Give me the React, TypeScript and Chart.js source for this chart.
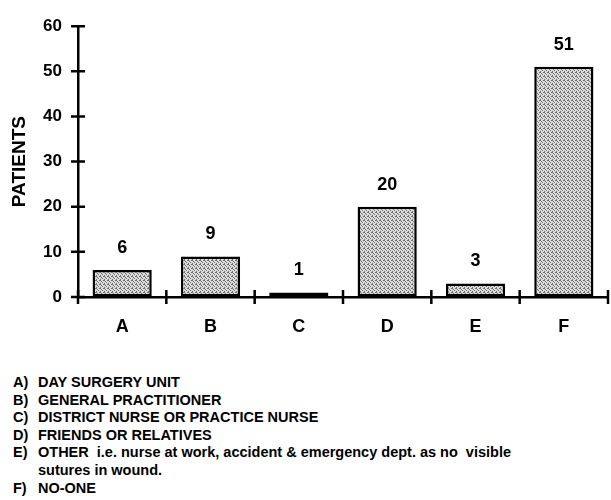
import React, { useEffect, useRef } from "react";
import { Chart, registerables } from "chart.js";

Chart.register(...registerables);

const categories = ["A", "B", "C", "D", "E", "F"];
const patients = [6, 9, 1, 20, 3, 51];
const yTicks = [0, 10, 20, 30, 40, 50, 60];
const legendKeys = ["A)", "B)", "C)", "D)", "E)", "F)"];
const legendTexts = [
  "DAY SURGERY UNIT",
  "GENERAL PRACTITIONER",
  "DISTRICT NURSE OR PRACTICE NURSE",
  "FRIENDS OR RELATIVES",
  "OTHER  i.e. nurse at work, accident & emergency dept. as no  visible\nsutures in wound.",
  "NO-ONE",
];

const FONT = "'Liberation Sans', Arial, sans-serif";
// dither mask for the bar fill (1 = dark pixel)
const DITHER = [
  [1, 0, 0, 1],
  [0, 1, 0, 0],
  [0, 0, 1, 0],
  [1, 0, 0, 0],
];

export default function App() {
  const ref = useRef<HTMLCanvasElement | null>(null);

  useEffect(() => {
    const canvas = ref.current;
    if (!canvas) return;
    const pc = document.createElement("canvas");
    pc.width = 4;
    pc.height = 4;
    const pctx = pc.getContext("2d")!;
    pctx.fillStyle = "#dcdcdc";
    pctx.fillRect(0, 0, 4, 4);
    pctx.fillStyle = "#6e6e6e";
    DITHER.forEach((row, r) =>
      row.forEach((v, c) => {
        if (v) pctx.fillRect(c, r, 1, 1);
      })
    );
    const ctx0 = canvas.getContext("2d")!;
    const pattern = ctx0.createPattern(pc, "repeat");

    const axisTicks = {
      id: "axisTicks",
      afterDraw(chart: any) {
        const ctx = chart.ctx;
        const xs = chart.scales.x;
        const ys = chart.scales.y;
        const area = chart.chartArea;
        ctx.save();
        ctx.strokeStyle = "#000";
        ctx.lineWidth = 2.5;
        ctx.beginPath();
        ys.ticks.forEach((t: any) => {
          const y = ys.getPixelForValue(t.value);
          ctx.moveTo(area.left - 7, y);
          ctx.lineTo(area.left + 7, y);
        });
        const half = (xs.getPixelForValue(1) - xs.getPixelForValue(0)) / 2;
        for (let i = 0; i <= categories.length; i++) {
          const x = i < categories.length ? xs.getPixelForValue(i) - half : xs.getPixelForValue(i - 1) + half;
          ctx.moveTo(x, area.bottom - 7);
          ctx.lineTo(x, area.bottom + 7);
        }
        ctx.stroke();
        ctx.restore();
      },
    };

    const valueLabels = {
      id: "valueLabels",
      afterDatasetsDraw(chart: any) {
        const ctx = chart.ctx;
        const meta = chart.getDatasetMeta(0);
        ctx.save();
        ctx.fillStyle = "#000";
        ctx.font = `bold 18px ${FONT}`;
        ctx.textAlign = "center";
        ctx.textBaseline = "middle";
        meta.data.forEach((bar: any, i: number) => {
          ctx.fillText(String(patients[i]), bar.x, bar.y - 22);
        });
        ctx.restore();
      },
    };

    const chart = new Chart(canvas, {
      type: "bar",
      data: {
        labels: categories,
        datasets: [
          {
            data: patients,
            backgroundColor: pattern as any,
            borderColor: "#000",
            borderWidth: 2.5,
            borderSkipped: false,
            categoryPercentage: 1,
            barPercentage: 0.67,
          },
        ],
      },
      options: {
        responsive: false,
        animation: false,
        layout: { padding: { top: 19, right: 3, left: 0, bottom: 0 } },
        plugins: { legend: { display: false }, tooltip: { enabled: false } },
        scales: {
          x: {
            offset: true,
            grid: { display: true, drawOnChartArea: false, drawTicks: false },
            border: { display: true, color: "#000", width: 2.5 },
            ticks: { color: "#000", font: { family: FONT, size: 18, weight: "bold" }, padding: 19 },
            afterFit: (s: any) => {
              s.height = 53;
            },
          },
          y: {
            min: 0,
            max: 60,
            afterBuildTicks: (s: any) => {
              s.ticks = yTicks.map((v) => ({ value: v }));
            },
            grid: { display: true, drawOnChartArea: false, drawTicks: false },
            border: { display: true, color: "#000", width: 2.5 },
            ticks: { color: "#000", font: { family: FONT, size: 17, weight: "bold" }, padding: 16 },
            title: {
              display: true,
              text: "PATIENTS",
              color: "#000",
              font: { family: FONT, size: 19, weight: "bold" },
              padding: { top: 8, bottom: 0 },
            },
            afterFit: (s: any) => {
              s.width = 78;
            },
          },
        },
      },
      plugins: [axisTicks, valueLabels],
    });
    return () => chart.destroy();
  }, []);

  return (
    <div style={{ position: "absolute", left: 0, top: 0, width: 611, height: 500, background: "#fff" }}>
      <canvas ref={ref} width={611} height={350} style={{ display: "block" }} />
      <div
        style={{
          position: "absolute",
          left: 13,
          top: 374,
          fontFamily: FONT,
          fontWeight: "bold",
          fontSize: "14.5px",
          lineHeight: "17.6px",
          color: "#000",
        }}
      >
        {legendKeys.map((k, i) => (
          <div key={k} style={{ display: "flex" }}>
            <span style={{ width: 25, flex: "none" }}>{k}</span>
            <span style={{ whiteSpace: "pre" }}>{legendTexts[i]}</span>
          </div>
        ))}
      </div>
    </div>
  );
}
